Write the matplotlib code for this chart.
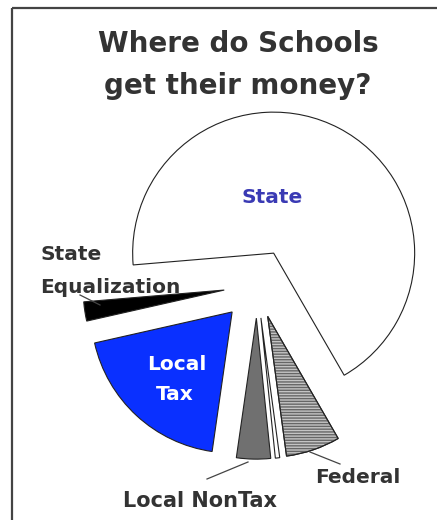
import matplotlib
matplotlib.use('Agg')
import matplotlib.pyplot as plt
from matplotlib.patches import Wedge

# funding sources, share of total (%)
sources = ['State', 'State Equalization', 'Local Tax', 'Local NonTax', 'Other', 'Federal']
shares = [68.0, 2.2, 19.2, 3.9, 0.5, 6.2]
slice_colors = ['white', 'black', '#0a30ff', '#707070', 'white', '#c4c4c4']
explode = [0.255, 0.235, 0.26, 0.235, 0.235, 0.235]  # fraction of radius

H = 520  # figure height in px, used to flip screen y
R = 141  # pie radius in px

fig = plt.figure(figsize=(4.37, 5.2), dpi=100)
ax = fig.add_axes([0, 0, 1, 1])

# matplotlib shifts exploded slices in data units, so scale by the radius
wedges, _ = ax.pie(shares, colors=slice_colors,
                   explode=[e * R for e in explode],
                   startangle=300, center=(257, H - 285), radius=R,
                   frame=True,
                   wedgeprops=dict(edgecolor='#222222', linewidth=0.8))

# horizontal stripes on the Federal slice
fed = wedges[sources.index('Federal')]
ax.add_patch(Wedge(fed.center, fed.r, fed.theta1, fed.theta2,
                   facecolor='none', edgecolor='#666666', hatch='------',
                   linewidth=0))
ax.add_patch(Wedge(fed.center, fed.r, fed.theta1, fed.theta2,
                   facecolor='none', edgecolor='#222222', linewidth=0.8))

ax.set_xlim(0, 437)
ax.set_ylim(0, H)
ax.set_aspect('equal')
ax.axis('off')

# frame (top and left edges only, rest is cropped)
ax.plot([12, 437], [H - 8, H - 8], color='#444444', lw=1.6, solid_capstyle='butt')
ax.plot([12, 12], [H - 8, 0], color='#444444', lw=1.6, solid_capstyle='butt')

txt = '#333333'
font = dict(fontweight='bold', family='DejaVu Sans')
fs = 14.5

ax.text(238, H - 52, 'Where do Schools', ha='center', va='baseline',
        fontsize=20, color=txt, **font)
ax.text(238, H - 94, 'get their money?', ha='center', va='baseline',
        fontsize=20, color=txt, **font)

ax.text(272, H - 203, 'State', ha='center', va='baseline', fontsize=fs,
        color='#3a3ab4', **font)
ax.text(40, H - 260, 'State', ha='left', va='baseline', fontsize=fs, color=txt, **font)
ax.text(40, H - 293, 'Equalization', ha='left', va='baseline', fontsize=fs, color=txt, **font)
ax.text(177, H - 370, 'Local', ha='center', va='baseline', fontsize=fs, color='white', **font)
ax.text(175, H - 400, 'Tax', ha='center', va='baseline', fontsize=fs, color='white', **font)
ax.text(315, H - 483, 'Federal', ha='left', va='baseline', fontsize=fs, color=txt, **font)
ax.text(200, H - 507, 'Local NonTax', ha='center', va='baseline', fontsize=15, color=txt, **font)

# leader lines
for (x0, y0), (x1, y1) in [((80, 295), (100, 305)),
                           ((207, 479), (248, 462)),
                           ((310, 452), (340, 464))]:
    ax.plot([x0, x1], [H - y0, H - y1], color='#444444', lw=0.9)

fig.savefig('out.png', dpi=100)
